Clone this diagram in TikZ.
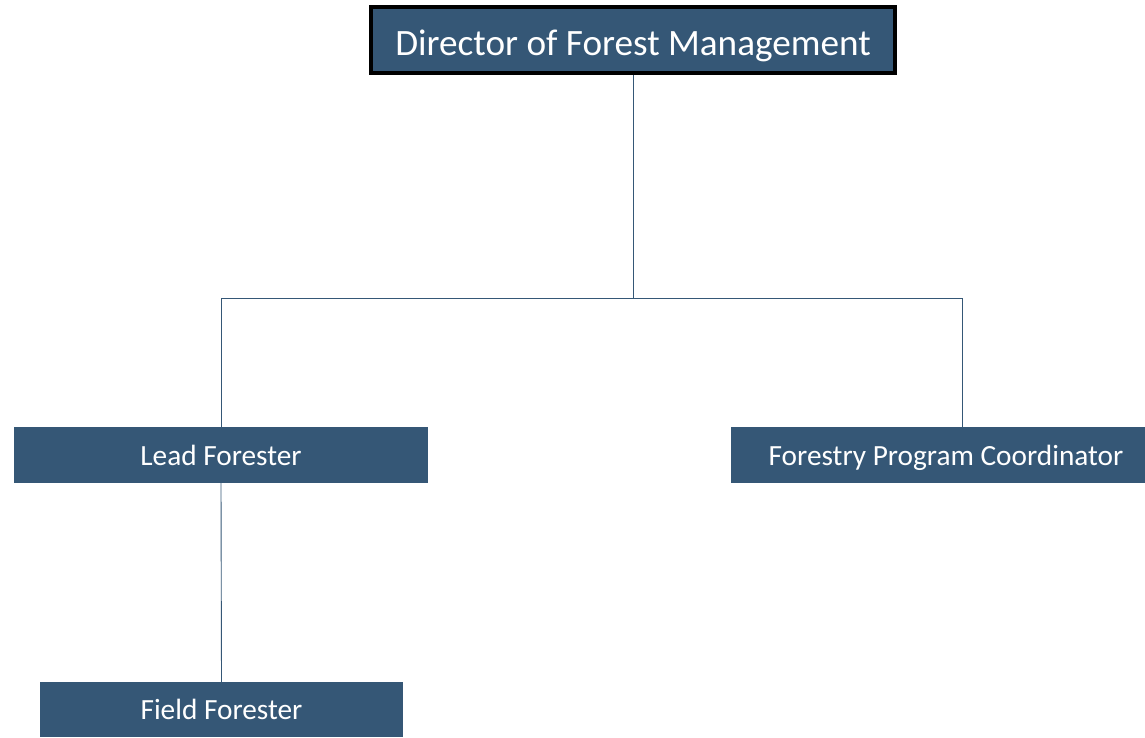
\documentclass[tikz,border=0pt]{standalone}
\usepackage{fontspec}
\setmainfont{Carlito}
\definecolor{slate}{RGB}{53,87,118}
\begin{document}
\begin{tikzpicture}[x=1pt,y=-1pt,
    box/.style={fill=slate,text=white,inner sep=0pt,minimum height=56pt,text height=20pt,text depth=0pt,font=\fontsize{29.3}{34}\selectfont},
    link/.style={draw=slate,line width=0.9pt}]
    \useasboundingbox (0,0) rectangle (1145,737);

    % Cajas
    \node[box,draw=black,line width=4pt,minimum width=524pt,minimum height=66pt,font=\fontsize{37.2}{44}\selectfont,text height=30pt] (dir) at (633,40) {Director of Forest Management};
    \node[box,minimum width=414pt] (lead) at (221,455) {Lead Forester};
    \node[box,minimum width=430pt] (fpc) at (946,455) {Forestry Program Coordinator};
    \node[box,minimum width=363pt,minimum height=55pt] (field) at (221.5,709.5) {Field Forester};

    % Conectores
    \coordinate (bus) at (633,298);
    \coordinate (fpctop) at (962,427);
    \draw[link] (dir.south) -- (bus);
    \draw[link] (bus) -| (lead.north);
    \draw[link] (bus) -| (fpctop);
    \draw[link] (lead.south) -- (field.north);
\end{tikzpicture}
\end{document}
